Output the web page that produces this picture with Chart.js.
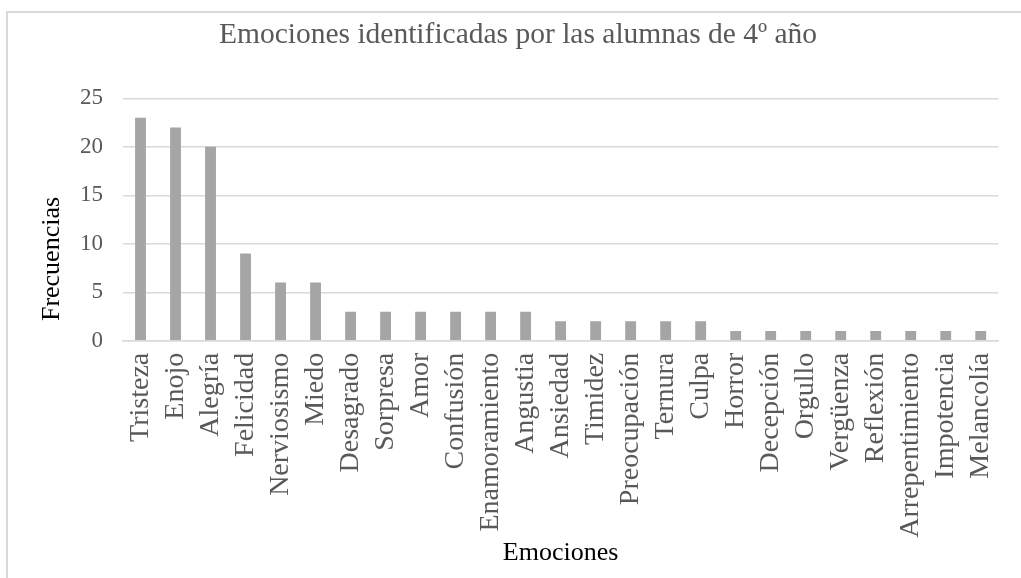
<!DOCTYPE html>
<html>
<head>
<meta charset="utf-8">
<script src="https://cdn.jsdelivr.net/npm/chart.js@4/dist/chart.umd.min.js"></script>
<style>
  html, body { margin: 0; padding: 0; background: #fff; overflow: hidden; }
  #frame { position: absolute; left: 6px; top: 11px; width: 1100px; height: 700px; border: 2px solid #d9d9d9; }
  #chart { position: absolute; left: 0; top: 0; }
</style>
</head>
<body>
<div id="frame"></div>
<canvas id="chart" width="1021" height="578"></canvas>
<script>
var emociones = ['Tristeza', 'Enojo', 'Alegría', 'Felicidad', 'Nerviosismo', 'Miedo',
    'Desagrado', 'Sorpresa', 'Amor', 'Confusión', 'Enamoramiento', 'Angustia',
    'Ansiedad', 'Timidez', 'Preocupación', 'Ternura', 'Culpa', 'Horror',
    'Decepción', 'Orgullo', 'Vergüenza', 'Reflexión', 'Arrepentimiento',
    'Impotencia', 'Melancolía'];
var frecuencias = [23, 22, 20, 9, 6, 6, 3, 3, 3, 3, 3, 3, 2, 2, 2, 2, 2, 1, 1, 1, 1, 1, 1, 1, 1];
var yTicks = [0, 5, 10, 15, 20, 25];

var serif = 'Liberation Serif';
var grey = '#595959';

// y axis title drawn by hand, Excel puts it lower than the plot centre
var yTitlePlugin = {
    id: 'yTitle',
    afterDraw: function(chart) {
        var ctx = chart.ctx;
        ctx.save();
        ctx.translate(59, 259);
        ctx.rotate(-Math.PI / 2);
        ctx.font = '26px "' + serif + '"';
        ctx.fillStyle = '#000';
        ctx.textAlign = 'center';
        ctx.textBaseline = 'alphabetic';
        ctx.fillText('Frecuencias', 0, 0);
        ctx.restore();
    }
};

new Chart(document.getElementById('chart'), {
    type: 'bar',
    data: {
        labels: emociones,
        datasets: [{
            label: 'Frecuencias',
            data: frecuencias,
            backgroundColor: '#a5a5a5',
            barPercentage: 0.31,
            categoryPercentage: 1
        }]
    },
    options: {
        responsive: false,
        animation: false,
        devicePixelRatio: 1,
        layout: { padding: { left: 28, right: 13, top: 0, bottom: 0 } },
        plugins: {
            legend: { display: false },
            tooltip: { enabled: false },
            title: {
                display: true,
                text: 'Emociones identificadas por las alumnas de 4º año',
                color: grey,
                font: { family: serif, size: 29.5, weight: 'normal' },
                padding: { top: 18, bottom: 45 }
            }
        },
        scales: {
            x: {
                grid: { display: false, drawTicks: false },
                border: { display: true, color: '#d9d9d9', width: 1.5 },
                ticks: {
                    color: grey,
                    font: { family: serif, size: 28, lineHeight: 1 },
                    minRotation: 90,
                    maxRotation: 90,
                    autoSkip: false,
                    padding: 12
                },
                title: {
                    display: true,
                    text: 'Emociones',
                    color: '#000',
                    font: { family: serif, size: 26 },
                    padding: { top: -12, bottom: 9 }
                }
            },
            y: {
                min: 0,
                max: 25,
                afterBuildTicks: function(axis) {
                    axis.ticks = yTicks.map(function(v) { return { value: v }; });
                },
                afterFit: function(axis) {
                    axis.width = 95;
                },
                grid: { color: '#d9d9d9', lineWidth: 1.5, drawTicks: false },
                border: { display: false },
                ticks: {
                    color: grey,
                    font: { family: serif, size: 23 },
                    padding: 20
                }
            }
        }
    },
    plugins: [yTitlePlugin]
});
</script>
</body>
</html>
